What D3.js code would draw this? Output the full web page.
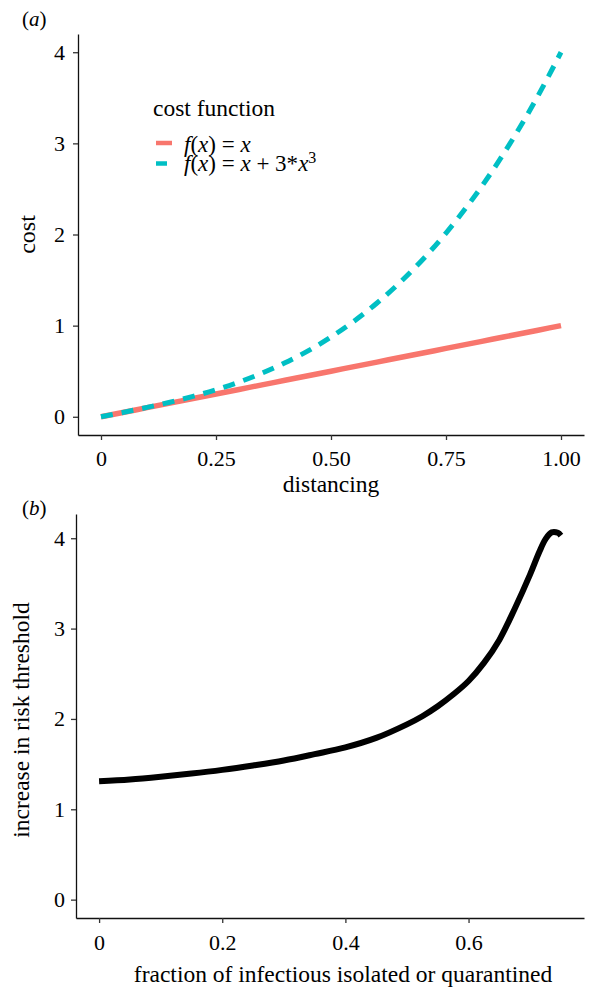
<!DOCTYPE html>
<html>
<head>
<meta charset="utf-8">
<script src="https://d3js.org/d3.v7.min.js"></script>
<style>
  body { margin: 0; background: #fff; }
  svg text { font-family: "Liberation Serif", "DejaVu Serif", serif; fill: #000; }
</style>
</head>
<body>
<div id="chart"></div>
<script>
// panel (a): cost of distancing
const distancing = [0, 0.05, 0.1, 0.15, 0.2, 0.25, 0.3, 0.35, 0.4, 0.45, 0.5,
  0.55, 0.6, 0.65, 0.7, 0.75, 0.8, 0.85, 0.9, 0.95, 1.0]
const costLinear = [0, 0.05, 0.1, 0.15, 0.2, 0.25, 0.3, 0.35, 0.4, 0.45, 0.5,
  0.55, 0.6, 0.65, 0.7, 0.75, 0.8, 0.85, 0.9, 0.95, 1.0]
const costCubic = [0, 0.05, 0.103, 0.16, 0.224, 0.297, 0.381, 0.479, 0.592, 0.723, 0.875,
  1.049, 1.248, 1.474, 1.729, 2.016, 2.336, 2.692, 3.087, 3.522, 4.0]
const costTicksX = [0, 0.25, 0.5, 0.75, 1]
const costTickLabelsX = ["0", "0.25", "0.50", "0.75", "1.00"]
const costTicksY = [0, 1, 2, 3, 4]

// panel (b): risk threshold
const fraction = [0, 0.05, 0.1, 0.15, 0.2, 0.25, 0.3, 0.35, 0.4, 0.45, 0.5,
  0.525, 0.55, 0.575, 0.6, 0.625, 0.65, 0.675, 0.7, 0.715, 0.725, 0.735, 0.745, 0.75]
const threshold = [1.31, 1.33, 1.36, 1.395, 1.436, 1.485, 1.54, 1.61, 1.685, 1.79, 1.94,
  2.03, 2.14, 2.27, 2.42, 2.62, 2.875, 3.22, 3.60, 3.85, 3.99, 4.065, 4.06, 4.03]
const riskTicksX = [0, 0.2, 0.4, 0.6]
const riskTickLabelsX = ["0", "0.2", "0.4", "0.6"]
const riskTicksY = [0, 1, 2, 3, 4]

const W = 595, H = 989
const svg = d3.select("#chart").append("svg")
  .attr("width", W).attr("height", H)

// ggplot-like 5% expansion
function expand(ext) {
  const pad = (ext[1] - ext[0]) * 0.05
  return [ext[0] - pad, ext[1] + pad]
}

function styleAxis(g, fs) {
  g.select(".domain").attr("stroke", "#111").attr("stroke-width", 1.3)
  g.selectAll(".tick line").attr("stroke", "#333").attr("stroke-width", 1.3)
  g.selectAll(".tick text")
    .attr("font-family", "Liberation Serif, serif")
    .attr("font-size", fs).attr("fill", "#000")
}

// ---------- panel (a) ----------
const xA = d3.scaleLinear().domain(expand([0, 1])).range([78, 584])
const yA = d3.scaleLinear().domain(expand([0, 4])).range([435, 34])

svg.append("g")
  .attr("transform", `translate(0,${yA.range()[0]})`)
  .call(d3.axisBottom(xA).tickValues(costTicksX)
    .tickFormat((d, i) => costTickLabelsX[i]).tickSize(5).tickSizeOuter(0).tickPadding(10))
  .call(g => styleAxis(g, 22))

svg.append("g")
  .attr("transform", `translate(${xA.range()[0]},0)`)
  .call(d3.axisLeft(yA).tickValues(costTicksY)
    .tickFormat(d3.format("d")).tickSize(5).tickSizeOuter(0).tickPadding(8))
  .call(g => styleAxis(g, 22))

const lineA = (ys) => d3.line()
  .x((d, i) => xA(distancing[i]))
  .y(d => yA(d))
  .curve(d3.curveMonotoneX)(ys)

svg.append("path")
  .attr("d", lineA(costLinear))
  .attr("fill", "none").attr("stroke", "#F8766D").attr("stroke-width", 5.5)

svg.append("path")
  .attr("d", lineA(costCubic))
  .attr("fill", "none").attr("stroke", "#00BFC4").attr("stroke-width", 5)
  .attr("stroke-dasharray", "12,9")

svg.append("text").attr("x", 22).attr("y", 26).attr("font-size", 21)
  .html('(<tspan font-style="italic">a</tspan>)')

svg.append("text")
  .attr("x", 331).attr("y", 492)
  .attr("text-anchor", "middle").attr("font-size", 23.5)
  .text("distancing")

svg.append("text")
  .attr("transform", `translate(35,${(435 + 34) / 2}) rotate(-90)`)
  .attr("text-anchor", "middle").attr("font-size", 24)
  .text("cost")

// legend
const legend = svg.append("g")
legend.append("text").attr("x", 153).attr("y", 116).attr("font-size", 23.5)
  .text("cost function")
legend.append("line").attr("x1", 156).attr("x2", 172).attr("y1", 143).attr("y2", 143)
  .attr("stroke", "#F8766D").attr("stroke-width", 4.5)
legend.append("line").attr("x1", 156).attr("x2", 172).attr("y1", 163.5).attr("y2", 163.5)
  .attr("stroke", "#00BFC4").attr("stroke-width", 4.5).attr("stroke-dasharray", "11,9")
legend.append("text").attr("x", 184).attr("y", 151.5).attr("font-size", 23)
  .html('<tspan font-style="italic">f</tspan>(<tspan font-style="italic">x</tspan>) = <tspan font-style="italic">x</tspan>')
legend.append("text").attr("x", 184).attr("y", 170.5).attr("font-size", 23)
  .html('<tspan font-style="italic">f</tspan>(<tspan font-style="italic">x</tspan>) = <tspan font-style="italic">x</tspan> + 3*<tspan font-style="italic">x</tspan><tspan font-size="16" dy="-8">3</tspan>')

// ---------- panel (b) ----------
const xB = d3.scaleLinear().domain(expand(d3.extent(fraction))).range([76, 584])
const yB = d3.scaleLinear().domain(expand([0, d3.max(threshold)])).range([918, 514])

svg.append("g")
  .attr("transform", `translate(0,${yB.range()[0]})`)
  .call(d3.axisBottom(xB).tickValues(riskTicksX)
    .tickFormat((d, i) => riskTickLabelsX[i]).tickSize(5).tickSizeOuter(0).tickPadding(11))
  .call(g => styleAxis(g, 22))

svg.append("g")
  .attr("transform", `translate(${xB.range()[0]},0)`)
  .call(d3.axisLeft(yB).tickValues(riskTicksY)
    .tickFormat(d3.format("d")).tickSize(5).tickSizeOuter(0).tickPadding(6))
  .call(g => styleAxis(g, 22))

svg.append("path")
  .attr("d", d3.line()
    .x((d, i) => xB(fraction[i]))
    .y(d => yB(d))
    .curve(d3.curveCatmullRom.alpha(0.5))(threshold))
  .attr("fill", "none").attr("stroke", "#000").attr("stroke-width", 6)
  .attr("stroke-linejoin", "round")

svg.append("text").attr("x", 22).attr("y", 515).attr("font-size", 21)
  .html('(<tspan font-style="italic">b</tspan>)')

svg.append("text")
  .attr("x", 343).attr("y", 982)
  .attr("text-anchor", "middle").attr("font-size", 23.5)
  .text("fraction of infectious isolated or quarantined")

svg.append("text")
  .attr("transform", `translate(29,720) rotate(-90)`)
  .attr("text-anchor", "middle").attr("font-size", 23.5)
  .text("increase in risk threshold")
</script>
</body>
</html>
